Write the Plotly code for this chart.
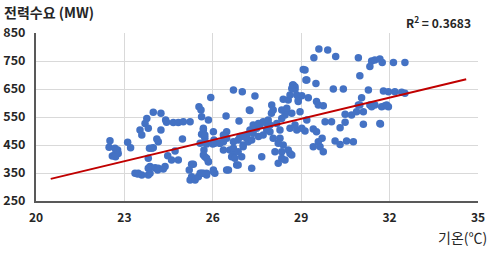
import plotly.graph_objects as go

# Temperature (°C) and power demand (MW)
temp = [
    22.51, 22.48, 22.68, 22.77, 22.59, 22.68, 22.79, 22.70, 23.11, 23.21,
    23.53, 23.59, 23.76, 23.70, 23.81, 23.98, 24.24, 24.40, 24.43, 24.24,
    24.66, 24.83, 25.00, 25.23, 24.10, 24.15, 23.93, 23.85, 23.98, 23.81,
    23.87, 23.81, 24.04, 24.15, 24.38, 24.47, 24.72, 24.60, 24.83, 24.97,
    23.45, 23.59, 23.81, 24.13, 24.32, 25.28, 25.34, 25.20, 25.28, 25.23,
    25.40, 25.51, 25.53, 25.60, 25.62, 25.68, 25.79, 26.02, 26.07, 25.68,
    25.57, 23.47, 23.87, 23.36, 25.73, 25.85, 25.70, 25.57, 26.00, 26.04,
    26.81, 26.47, 25.93, 26.70, 27.00, 26.45, 26.89, 27.24, 26.02, 26.36,
    26.47, 26.24, 26.92, 27.15, 25.68, 25.73, 25.79, 26.58, 26.70, 27.03,
    26.98, 27.43, 27.26, 28.00, 28.05, 28.39, 28.56, 28.62, 28.71, 28.79,
    28.51, 28.45, 28.68, 28.34, 28.17, 28.85, 28.90, 27.60, 27.83, 27.94,
    25.62, 25.85, 26.07, 26.24, 26.36, 26.70, 26.64, 26.75, 26.86, 26.86,
    27.03, 27.15, 27.20, 27.26, 27.37, 27.32, 27.49, 27.55, 27.66, 27.32,
    26.53, 25.79, 26.02, 25.62, 25.68, 25.79, 25.85, 28.05, 28.28, 28.22,
    28.39, 28.11, 28.34, 28.56, 28.62, 28.34, 28.22, 28.45, 28.68, 28.28,
    28.62, 28.85, 27.83, 27.94, 27.71, 27.03, 26.86, 26.70, 26.47, 26.36,
    29.60, 29.90, 29.43, 30.17, 30.94, 31.39, 31.50, 31.67, 31.75, 32.13,
    32.52, 31.33, 29.13, 29.19, 29.50, 30.99, 30.09, 30.43, 31.28, 31.79,
    31.96, 32.18, 32.41, 32.52, 28.79, 29.02, 29.24, 28.90, 29.52, 29.58,
    29.75, 31.05, 30.94, 31.33, 31.50, 31.84, 28.79, 28.96, 29.19, 29.02,
    29.13, 29.41, 29.52, 29.81, 30.03, 30.32, 30.49, 30.49, 30.71, 30.88,
    31.11, 31.11, 31.67, 29.71, 29.58, 29.41, 29.64, 29.75, 30.15, 30.32,
    30.54, 30.77, 31.39, 31.73, 31.96, 30.99, 31.69, 31.90, 29.07, 29.16,
    28.73, 28.68, 27.37, 27.55, 27.71, 27.88, 27.99, 28.34, 28.51, 25.73,
]
demand = [
    465, 442, 438, 432, 411, 417, 420, 408, 460, 440,
    504, 486, 545, 527, 510, 567, 563, 539, 531, 504,
    530, 530, 533, 533, 471, 462, 438, 438, 440, 403,
    373, 367, 369, 367, 373, 412, 429, 396, 396, 471,
    346, 343, 343, 361, 364, 381, 381, 361, 337, 325,
    325, 337, 587, 575, 488, 510, 349, 361, 349, 349,
    349, 349, 349, 349, 408, 390, 432, 456, 454, 468,
    379, 361, 620, 646, 640, 554, 536, 575, 497, 462,
    497, 456, 480, 474, 504, 474, 454, 432, 420, 444,
    408, 625, 573, 593, 575, 613, 611, 629, 664, 649,
    569, 557, 563, 545, 527, 629, 611, 521, 527, 521,
    551, 539, 456, 456, 432, 438, 408, 403, 426, 379,
    450, 486, 462, 504, 492, 468, 510, 480, 408, 367,
    361, 343, 355, 349, 414, 403, 390, 474, 474, 456,
    450, 426, 426, 432, 420, 403, 385, 396, 414, 504,
    510, 504, 504, 497, 486, 480, 468, 462, 474, 486,
    793, 789, 762, 766, 762, 750, 754, 757, 745, 745,
    745, 730, 718, 682, 670, 697, 650, 650, 646, 643,
    640, 640, 638, 635, 658, 626, 619, 605, 605, 593,
    590, 619, 593, 593, 593, 590, 521, 569, 539, 510,
    500, 507, 497, 533, 533, 512, 531, 560, 557, 569,
    569, 524, 527, 474, 462, 444, 444, 426, 464, 452,
    464, 462, 587, 587, 587, 593, 525, 593, 720, 682,
    664, 652, 521, 527, 533, 539, 563, 575, 581, 486,
]

# Linear trend line end points (as drawn in the reference)
trend_x = [20.5, 34.6]
trend_y = [329, 685]

x_ticks = [20, 23, 26, 29, 32, 35]
y_ticks = [250, 350, 450, 550, 650, 750, 850]

y_title = "전력수요 (MW)"
x_title = "기온(℃)"
r2_label = "R<sup>2</sup> = 0.3683"

FONT = "Noto Sans CJK KR"

fig = go.Figure()
fig.add_trace(go.Scatter(
    x=temp, y=demand, mode="markers",
    marker=dict(color="#4472C4", size=7.5, line=dict(width=0)),
    showlegend=False, hoverinfo="skip",
))
fig.add_trace(go.Scatter(
    x=trend_x, y=trend_y, mode="lines",
    line=dict(color="#C00000", width=2),
    showlegend=False, hoverinfo="skip",
))

fig.update_layout(
    template="none",
    width=494, height=254,
    margin=dict(l=36, r=16, t=33, b=53, autoexpand=False),
    paper_bgcolor="white", plot_bgcolor="white",
    font=dict(family=FONT, color="#262626"),
    xaxis=dict(
        range=[20, 35], tickvals=x_ticks, ticktext=[str(v) for v in x_ticks],
        showgrid=True, gridcolor="#D9D9D9", gridwidth=1,
        showline=True, linecolor="#595959", linewidth=2,
        zeroline=False, ticks="", ticklabelstandoff=5, automargin=False,
        tickfont=dict(family=FONT, size=12, color="#262626", weight="bold"),
    ),
    yaxis=dict(
        range=[250, 850], tickvals=y_ticks, ticktext=[str(v) for v in y_ticks],
        showgrid=True, gridcolor="#D9D9D9", gridwidth=1,
        showline=True, linecolor="#595959", linewidth=2,
        zeroline=False, ticks="", ticklabelstandoff=6, automargin=False,
        tickfont=dict(family=FONT, size=12.5, color="#262626", weight="bold"),
    ),
    annotations=[
        dict(text=y_title, xref="paper", yref="paper", x=-0.078, y=1.125,
             xanchor="left", yanchor="middle", showarrow=False,
             font=dict(family=FONT, size=14, color="#262626", weight="bold")),
        dict(text=r2_label, xref="paper", yref="paper", x=0.989, y=1.065,
             xanchor="right", yanchor="middle", showarrow=False,
             font=dict(family=FONT, size=12, color="#262626", weight="bold")),
        dict(text=x_title, xref="paper", yref="paper", x=1.026, y=-0.214,
             xanchor="right", yanchor="middle", showarrow=False,
             font=dict(family=FONT, size=14, color="#262626")),
    ],
)

fig.write_html("out.html")
